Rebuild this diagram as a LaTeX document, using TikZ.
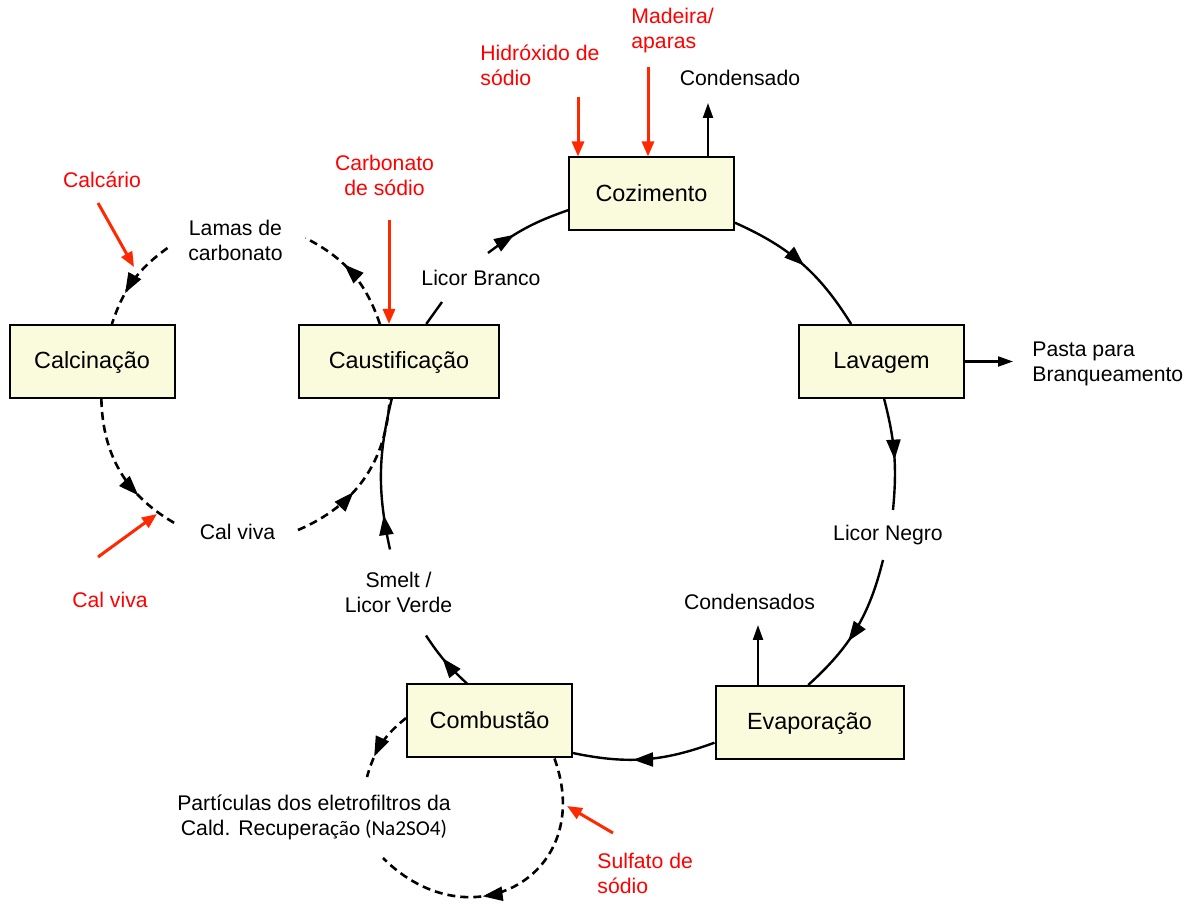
\documentclass[tikz,border=0pt]{standalone}
\usepackage{fontspec}
\setmainfont{Liberation Sans}
\newfontfamily\calfont{Carlito}
\usepackage{tikz}
\usetikzlibrary{arrows.meta, decorations.markings}

\definecolor{boxfill}{RGB}{250,250,220}
\definecolor{feedred}{RGB}{255,40,0}
\definecolor{textred}{RGB}{255,0,0}

\begin{document}
\begin{tikzpicture}[
        x=0.5pt, y=0.5pt,
        block/.style={rectangle, draw, fill=boxfill, line width=1pt, minimum width=82.5pt, minimum height=36.5pt, text height=1.45ex, text depth=0.1ex, font=\fontsize{11.7}{14}\selectfont},
        lbl/.style={align=center, inner sep=0pt, font=\fontsize{10.6}{12.5}\selectfont},
        redlbl/.style={lbl, text=textred},
        flow/.style={line width=1.2pt, postaction={decorate}, decoration={markings, mark=at position #1 with {\arrow{Triangle[length=10pt, width=7pt]}}}},
        flow/.default=0.5,
        dflow/.style={flow=#1, line width=1.3pt, dash pattern=on 4pt off 2.5pt},
        dflow/.default=0.5,
        feed/.style={-{Triangle[length=7.5pt, width=6pt]}, line width=1.5pt, draw=feedred},
        outarrow/.style={-{Triangle[length=7.5pt, width=5pt]}, line width=1.1pt}
    ]
        \useasboundingbox (0,-908) rectangle (1195,0);

        % process boxes
        \node[block] (coz) at (651.5,-194) {Cozimento};
        \node[block] (lav) at (881.5,-361.5) {Lavagem};
        \node[block, minimum width=94pt] (evap) at (809.5,-722.5) {Evaporação};
        \node[block] (comb) at (489.5,-721) {Combustão};
        \node[block, minimum width=100pt] (caus) at (399,-361.5) {Caustificação};
        \node[block] (calc) at (92,-361.5) {Calcinação};

        % stream labels
        \node[lbl] (lb) at (481,-278) {Licor Branco};
        \node[lbl] (ln) at (888,-535) {Licor Negro};
        \node[lbl] (sm) at (398.5,-592.5) {Smelt /\\Licor Verde};
        \node[lbl] (lam) at (235.5,-240) {Lamas de\\carbonato};
        \node[lbl] (cv) at (237.5,-532) {Cal viva};
        \node[lbl] (part) at (314,-817) {Partículas dos eletrofiltros da\\Cald. Recupera{\calfont ção (Na2SO4)}};
        \node[lbl] (cond) at (740,-78) {Condensado};
        \node[lbl] (conds) at (749.5,-602) {Condensados};
        \node[lbl, align=left, anchor=west] (pasta) at (1032,-364) {Pasta para\\Branqueamento};

        % make-up chemicals
        \node[redlbl, align=left, anchor=west] (mad) at (631,-30.5) {Madeira/\\aparas};
        \node[redlbl, align=left, anchor=west] (hid) at (480,-65) {Hidróxido de\\sódio};
        \node[redlbl] (carb) at (384.5,-175.5) {Carbonato\\de sódio};
        \node[redlbl] (calcario) at (102,-180) {Calcário};
        \node[redlbl] (cvred) at (110,-600) {Cal viva};
        \node[redlbl, align=left, anchor=west] (sulf) at (597,-873.5) {Sulfato de\\sódio};

        % liquor cycle
        \draw[line width=1.2pt] (caus.54) -- ([shift={(-39,-24)}]lb.center);
        \draw[flow=0.35] ([shift={(7,25)}]lb.center) to[bend left=9] (coz.191);
        \draw[flow=0.52] (coz.341) to[bend left=17] (lav.129);
        \draw[flow=0.55] (lav.274) to[bend left=10] ([shift={(5,25)}]ln.center);
        \draw[flow=0.6] ([shift={(-5,-25)}]ln.center) to[bend left=17] (evap.92);
        \draw[flow=0.58] (evap.192) to[bend left=16] (comb.339);
        \draw[flow=0.56] (comb.121) to[bend left=7] ([shift={(27.5,-43)}]sm.center);
        \draw[flow=0.23] ([shift={(-8.5,43)}]sm.center) to[bend left=13] (caus.259);

        % lime cycle
        \draw[dflow=0.6] (caus.117) to[bend right=22] ([shift={(70,2)}]lam.center);
        \draw[dflow=0.65] ([shift={(-68,-8)}]lam.center) to[bend right=18] (calc.62);
        \draw[dflow=0.68] (calc.284) to[bend right=30] ([shift={(-59.5,7)}]cv.center);
        \draw[dflow=0.4] ([shift={(60.5,2)}]cv.center) to[bend right=32] (caus.256);

        % dust return
        \draw[dflow=0.7] (comb.178) to[bend right=18] ([shift={(53,40)}]part.center);
        \draw[dflow=0.62] (comb.330) to[out=-70, in=-45, looseness=1.6] ([shift={(69,-41)}]part.center);

        % inputs
        \coordinate (madIn) at (648,-67);
        \coordinate (hidIn) at (578,-97);
        \coordinate (carbIn) at (389,-220);
        \coordinate (calcIn) at (98,-203);
        \coordinate (calcTip) at (134,-267);
        \coordinate (cvIn) at (98,-557);
        \coordinate (cvTip) at (157,-514);
        \coordinate (sulfIn) at (613,-833);
        \coordinate (sulfTip) at (567,-806);
        \draw[feed] (madIn) -- (madIn |- coz.north);
        \draw[feed] (hidIn) -- (hidIn |- coz.north);
        \draw[feed] (carbIn) -- (carbIn |- caus.north);
        \draw[feed] (calcIn) -- (calcTip);
        \draw[feed] (cvIn) -- (cvTip);
        \draw[feed] (sulfIn) -- (sulfTip);

        % outputs
        \coordinate (condOut) at (708,-103);
        \coordinate (condsOut) at (758,-625);
        \coordinate (pastaTip) at (1013,-362);
        \draw[outarrow] (condOut |- coz.north) -- (condOut);
        \draw[outarrow] (condsOut |- evap.north) -- (condsOut);
        \draw[outarrow] (lav.east) -- (pastaTip |- lav.east);
    \end{tikzpicture}
\end{document}
